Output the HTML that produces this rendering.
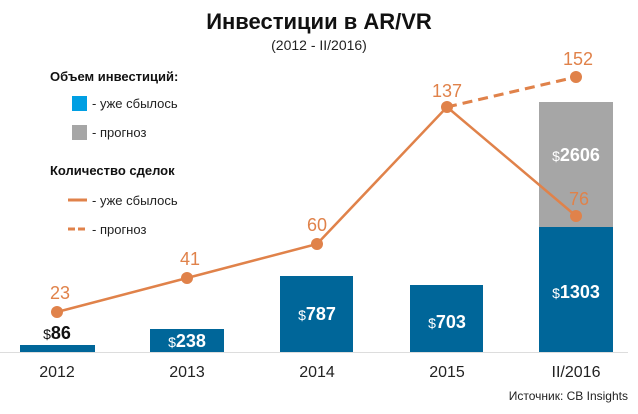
<!DOCTYPE html>
<html><head><meta charset="utf-8"><style>
body{margin:0;background:#fff;}
svg{display:block;font-family:"Liberation Sans",sans-serif;}
</style></head><body>
<svg width="638" height="414" viewBox="0 0 638 414">
<text x="319" y="29" text-anchor="middle" font-size="22" font-weight="bold" fill="#111">Инвестиции в AR/VR</text>
<text x="319" y="50" text-anchor="middle" font-size="14" fill="#222">(2012 - II/2016)</text>
<text x="50" y="81" font-size="13" font-weight="bold" fill="#111">Объем инвестиций:</text>
<rect x="72" y="96" width="15" height="15" fill="#009fe3"/>
<text x="92" y="108" font-size="13" fill="#222">- уже сбылось</text>
<rect x="72" y="125" width="15" height="15" fill="#a6a6a6"/>
<text x="92" y="137" font-size="13" fill="#222">- прогноз</text>
<text x="50" y="175" font-size="13" font-weight="bold" fill="#111">Количество сделок</text>
<line x1="68" y1="200" x2="87" y2="200" stroke="#e0824a" stroke-width="3"/>
<text x="92" y="205" font-size="13" fill="#222">- уже сбылось</text>
<line x1="68" y1="229" x2="87" y2="229" stroke="#e0824a" stroke-width="3" stroke-dasharray="7,3"/>
<text x="92" y="234" font-size="13" fill="#222">- прогноз</text>
<g fill="#006699">
<rect x="20" y="345" width="75" height="7"/>
<rect x="150" y="329" width="74" height="23"/>
<rect x="280" y="276" width="73" height="76"/>
<rect x="410" y="285" width="73" height="67"/>
<rect x="539" y="227" width="74" height="125"/>
</g>
<rect x="539" y="102" width="74" height="125" fill="#a6a6a6"/>
<line x1="0" y1="352.5" x2="628" y2="352.5" stroke="#ddd" stroke-width="1"/>
<g font-size="16" text-anchor="middle" fill="#222">
<text x="57" y="377">2012</text><text x="187" y="377">2013</text><text x="317" y="377">2014</text><text x="447" y="377">2015</text><text x="576" y="377">II/2016</text>
</g>
<text x="628" y="400" text-anchor="end" font-size="12" fill="#222">Источник: CB Insights</text>
<g font-weight="bold" font-size="18" text-anchor="middle">
<text x="57" y="339" fill="#111"><tspan font-weight="normal" font-size="14">$</tspan>86</text>
<text x="187" y="347" fill="#fff"><tspan font-weight="normal" font-size="14">$</tspan>238</text>
<text x="317" y="320" fill="#fff"><tspan font-weight="normal" font-size="14">$</tspan>787</text>
<text x="447" y="328" fill="#fff"><tspan font-weight="normal" font-size="14">$</tspan>703</text>
<text x="576" y="298" fill="#fff"><tspan font-weight="normal" font-size="14">$</tspan>1303</text>
<text x="576" y="161" fill="#fff"><tspan font-weight="normal" font-size="14">$</tspan>2606</text>
</g>
<polyline points="57,312 187,278 317,244 447,107 576,216" fill="none" stroke="#e0824a" stroke-width="2.5"/>
<line x1="447" y1="107" x2="576" y2="77" stroke="#e0824a" stroke-width="3" stroke-dasharray="10,6"/>
<g fill="#e0824a">
<circle cx="57" cy="312" r="6"/><circle cx="187" cy="278" r="6"/><circle cx="317" cy="244" r="6"/><circle cx="447" cy="107" r="6"/><circle cx="576" cy="216" r="6"/><circle cx="576" cy="77" r="6"/>
</g>
<g font-size="18" text-anchor="middle" fill="#e0824a">
<text x="60" y="299">23</text><text x="190" y="265">41</text><text x="317" y="231">60</text><text x="447" y="97">137</text><text x="579" y="205">76</text><text x="578" y="65">152</text>
</g>
</svg>
</body></html>
